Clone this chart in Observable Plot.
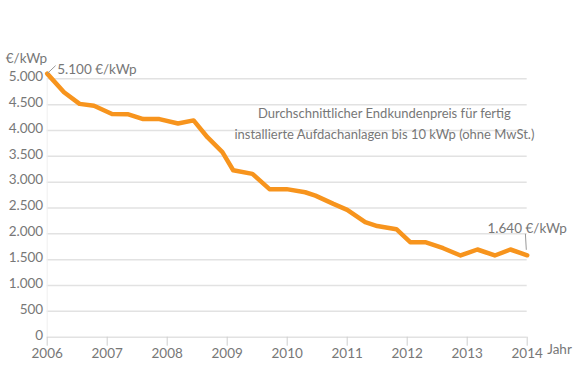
<!DOCTYPE html>
<html>
<head>
<meta charset="utf-8">
<script src="https://cdn.jsdelivr.net/npm/d3@7"></script>
<script src="https://cdn.jsdelivr.net/npm/@observablehq/plot@0.6"></script>
<style>
  html, body { margin: 0; padding: 0; background: #fff; }
  #chart { width: 580px; height: 390px; }
</style>
</head>
<body>
<div id="chart"></div>
<script>
// Data
const years = [2006.0, 2006.28, 2006.54, 2006.78, 2007.08, 2007.34, 2007.6, 2007.87,
  2008.18, 2008.44, 2008.67, 2008.92, 2009.1, 2009.42, 2009.705, 2009.99,
  2010.3, 2010.47, 2010.77, 2011.0, 2011.3, 2011.5, 2011.82, 2012.05,
  2012.3, 2012.6, 2012.89, 2013.17, 2013.46, 2013.72, 2014.0];
const prices = [5100, 4740, 4515, 4480, 4320, 4315, 4220, 4220,
  4135, 4195, 3870, 3580, 3230, 3160, 2865, 2865,
  2805, 2740, 2580, 2465, 2225, 2150, 2090, 1838,
  1838, 1722, 1581, 1697, 1581, 1697, 1585];
const yearTicks = [2006, 2007, 2008, 2009, 2010, 2011, 2012, 2013, 2014];
const priceTicks = [0, 500, 1000, 1500, 2000, 2500, 3000, 3500, 4000, 4500, 5000];
const unitLabel = "€/kWp";
const xLabel = "Jahr";
const startLabel = "5.100 €/kWp";
const endLabel = "1.640 €/kWp";
const description = "Durchschnittlicher Endkundenpreis für fertig\ninstallierte Aufdachanlagen bis 10 kWp (ohne MwSt.)";

const data = years.map((x, i) => ({year: x, price: prices[i]}));
const de = d3.formatLocale({decimal: ",", thousands: ".", grouping: [3], currency: ["", " €"]});
const fmt = de.format(",d");

const chart = Plot.plot({
  width: 580,
  height: 390,
  marginLeft: 46.7,
  marginRight: 53.3,
  marginTop: 78.3,
  marginBottom: 53.3,
  style: {fontFamily: "Lato, 'Open Sans', sans-serif", fontSize: "13px", color: "#777", background: "#fff", overflow: "visible"},
  x: {domain: [2006, 2014], label: null},
  y: {domain: [0, 5000], label: null},
  marks: [
    Plot.ruleY(priceTicks, {x1: 2006, x2: 2014, stroke: "#e2e2e2", strokeWidth: 1.5}),
    Plot.ruleX([2006], {y1: 0, y2: 5000, stroke: "#efefef", strokeWidth: 1}),
    Plot.axisY({ticks: priceTicks, tickSize: 0, tickPadding: 4, tickFormat: fmt, fill: "#777", dy: -2, fontSize: 13.5}),
    Plot.axisX({ticks: yearTicks, tickSize: 9, tickPadding: 2, stroke: "#cfcfcf", fill: "#777", tickFormat: d => String(d), fontSize: 13.5}),
    Plot.line(data, {x: "year", y: "price", stroke: "#F7941D", strokeWidth: 4.5}),
    // start annotation
    Plot.link([{x1: 2006, y1: 5100, x2: 2006.14, y2: 5255}], {x1: "x1", y1: "y1", x2: "x2", y2: "y2", stroke: "#999", strokeWidth: 1}),
    Plot.text([startLabel], {x: 2006, y: 5100, dx: 10, dy: -4, textAnchor: "start", fill: "#777", fontSize: 13.5}),
    // end annotation
    Plot.link([{x1: 2013.985, y1: 1691, x2: 2013.97, y2: 2001}], {x1: "x1", y1: "y1", x2: "x2", y2: "y2", stroke: "#999", strokeWidth: 1}),
    Plot.text([endLabel], {x: 2014, y: 1585, dy: -27, textAnchor: "middle", fill: "#777", fontSize: 13.5}),
    // description
    Plot.text([description], {x: 2011.62, y: 4177, textAnchor: "middle", lineHeight: 1.62, fill: "#777", fontSize: 13}),
    // unit and axis labels
    Plot.text([unitLabel], {frameAnchor: "top-left", textAnchor: "end", dy: -25, fill: "#777", fontSize: 13.5}),
    Plot.text([xLabel], {frameAnchor: "bottom-right", textAnchor: "start", dx: 20, dy: 17, fill: "#777", fontSize: 13.5})
  ]
});
document.getElementById("chart").appendChild(chart);
</script>
</body>
</html>
